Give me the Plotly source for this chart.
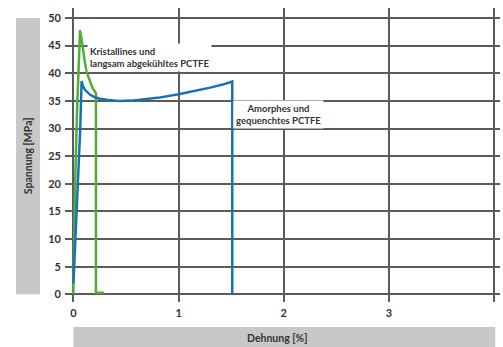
import plotly.graph_objects as go

# ---- data ----
green_x = [0, 0, 0.008, 0.016, 0.034, 0.05, 0.063, 0.075, 0.09, 0.109, 0.13, 0.157, 0.18, 0.204, 0.214, 0.214, 0.29]
green_y = [0, 2, 10, 20, 33, 43, 47.8, 46.5, 44, 42, 40, 38.6, 37.4, 36.7, 36.4, 0.3, 0.3]

blue_x = [0, 0.02, 0.045, 0.065, 0.078, 0.09, 0.11, 0.135, 0.16, 0.2, 0.25, 0.33, 0.44, 0.55, 0.65, 0.8, 1.0, 1.15, 1.3, 1.42, 1.51, 1.51]
blue_y = [2, 10, 20, 30, 38.6, 37.7, 37.0, 36.5, 36.1, 35.7, 35.4, 35.15, 35.0, 35.05, 35.2, 35.55, 36.2, 36.75, 37.4, 37.95, 38.5, 0]

x_tickvals = [0, 1, 2, 3, 4]
x_ticktext = ["0", "1", "2", "3", ""]
y_tickvals = [0, 5, 10, 15, 20, 25, 30, 35, 40, 45, 50]
y_ticktext = ["0", "5", "10", "15", "20", "25", "30", "35", "40", "45", "50"]

label_green = "Kristallines und<br>langsam abgekühltes PCTFE"
label_blue = "Amorphes und<br>gequenchtes PCTFE"
x_title = "Dehnung [%]"
y_title = "Spannung [MPa]"

# ---- layout ----
W, H = 503, 347
ML, MR, MT, MB = 65, 3, 8, 45
XR = [-0.080, 4.055]
YR = [-1.39, 51.81]
FONT = "Lato"
TXT = "#333333"
GRID = "#5b5b5b"
BOX = "#c8c8c9"

def py(v):  # data y -> paper y
    return (v - YR[0]) / (YR[1] - YR[0])

def px_x(p):  # pixel x -> paper x
    return (p - ML) / (W - ML - MR)

def px_y(p):  # pixel y -> paper y
    return (H - MB - p) / (H - MT - MB)

fig = go.Figure()
fig.add_trace(go.Scatter(x=green_x, y=green_y, mode="lines",
                         line=dict(color="#52ad35", width=2.5), hoverinfo="skip"))
fig.add_trace(go.Scatter(x=blue_x, y=blue_y, mode="lines",
                         line=dict(color="#1672b8", width=2.5), hoverinfo="skip"))

fig.update_layout(
    width=W, height=H,
    margin=dict(l=ML, r=MR, t=MT, b=MB, pad=0),
    paper_bgcolor="white", plot_bgcolor="white",
    showlegend=False,
    font=dict(family=FONT, color=TXT),
    xaxis=dict(range=XR, tickvals=x_tickvals, ticktext=x_ticktext,
               showgrid=True, gridcolor=GRID, gridwidth=2,
               zeroline=False, showline=False, ticks="",
               tickfont=dict(size=11, color=TXT, family=FONT, weight=700),
               ticklabelstandoff=3),
    yaxis=dict(range=YR, tickvals=y_tickvals, ticktext=y_ticktext,
               showgrid=True, gridcolor=GRID, gridwidth=2,
               zeroline=False, showline=False, ticks="",
               tickfont=dict(size=11, color=TXT, family=FONT, weight=700),
               ticklabelstandoff=3),
    shapes=[
        dict(type="rect", xref="paper", yref="paper",
             x0=px_x(16), x1=px_x(40), y0=py(0), y1=py(50),
             fillcolor=BOX, line=dict(width=0), layer="below"),
        dict(type="rect", xref="x", yref="paper",
             x0=0, x1=4.01, y0=px_y(347), y1=px_y(327),
             fillcolor=BOX, line=dict(width=0), layer="below"),
    ],
    annotations=[
        dict(text=label_green, x=0.13, y=42.8, xref="x", yref="y",
             xanchor="left", yanchor="middle", align="left", showarrow=False,
             bgcolor="white", borderpad=2,
             font=dict(size=9.5, color=TXT, family=FONT, weight=700)),
        dict(text=label_blue, x=1.953, y=32.6, xref="x", yref="y",
             xanchor="center", yanchor="middle", align="center", showarrow=False,
             bgcolor="white", borderpad=2,
             font=dict(size=9.5, color=TXT, family=FONT, weight=700)),
        dict(text=y_title, x=px_x(28), y=py(25), xref="paper", yref="paper",
             textangle=-90, showarrow=False, xanchor="center", yanchor="middle",
             font=dict(size=10.5, color=TXT, family=FONT, weight=700)),
        dict(text=x_title, x=px_x(277), y=px_y(338), xref="paper", yref="paper",
             showarrow=False, xanchor="center", yanchor="middle",
             font=dict(size=10.5, color=TXT, family=FONT, weight=700)),
    ],
)

fig.write_html("out.html")
